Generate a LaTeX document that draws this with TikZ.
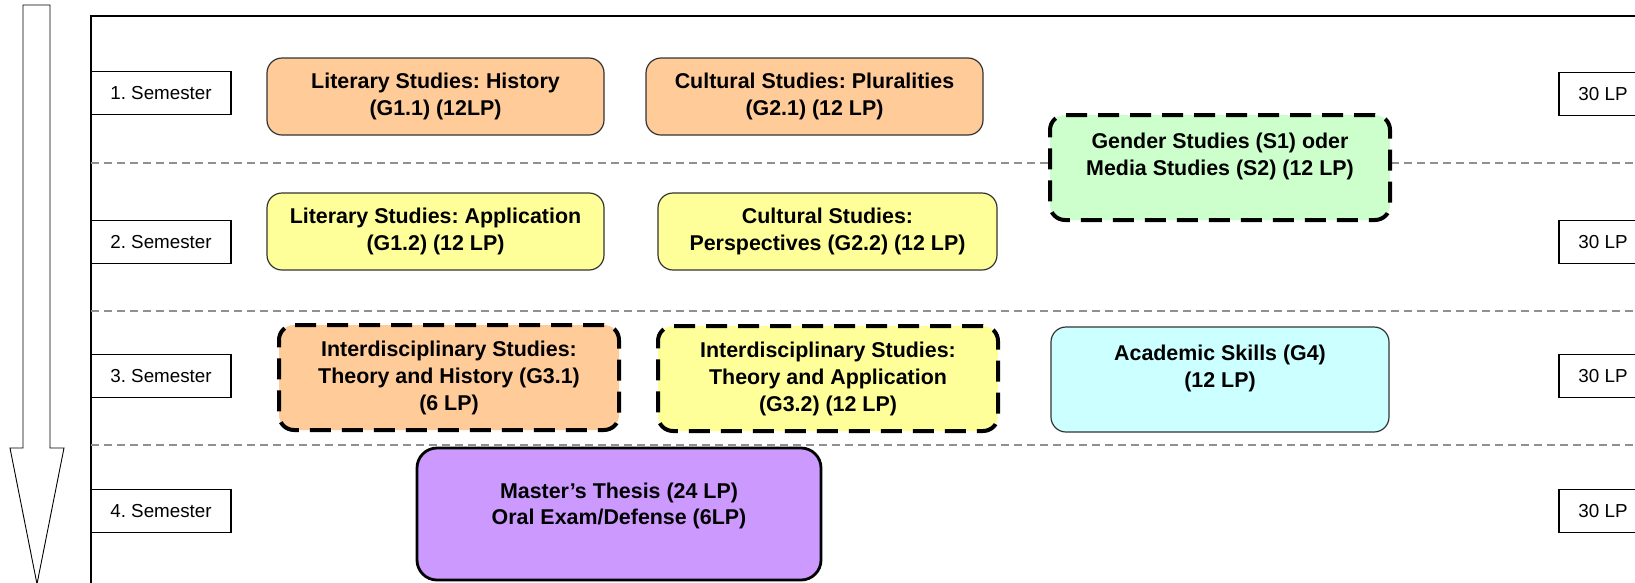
\documentclass[tikz,border=0pt]{standalone}
\usepackage{fontspec}
\setmainfont{Liberation Sans}
\frenchspacing
\definecolor{orng}{HTML}{FFCC99}
\definecolor{yllw}{HTML}{FFFF99}
\definecolor{grn}{HTML}{CCFFCC}
\definecolor{cyn}{HTML}{CCFFFF}
\definecolor{prpl}{HTML}{CC99FF}
\definecolor{sepgray}{HTML}{909090}
\begin{document}
\begin{tikzpicture}[x=1pt,y=-1pt,
  modbox/.style={draw=black!80, line width=1.2pt, rounded corners=15pt, align=center,
    font=\fontsize{21.4}{27}\selectfont\bfseries, inner sep=0pt},
  dashbox/.style={modbox, draw=black, line width=4pt, dash pattern=on 21pt off 11pt},
  sembox/.style={draw=black, line width=1.3pt, font=\fontsize{18.8}{22}\selectfont,
    minimum width=140pt, minimum height=43pt, inner sep=0pt},
  lpbox/.style={sembox, minimum width=88pt},
  sepline/.style={draw=sepgray, line width=1.3pt, dash pattern=on 8pt off 5pt}
]
\useasboundingbox (0,0) rectangle (1635,582);
\clip (0,0) rectangle (1635,582);
\fill[white] (0,0) rectangle (1635,582);

% time arrow
\draw[line width=0.9pt, fill=white] (23,5) -- (50,5) -- (50,448) -- (64,448) -- (37,584) -- (10,448) -- (23,448) -- cycle;

% frame
\draw[line width=1.4pt] (1640,16) -- (91,16) -- (91,590);

% semester separators
\coordinate (s1l) at (91,163); \coordinate (s1r) at (1640,163);
\coordinate (s2l) at (91,311); \coordinate (s2r) at (1640,311);
\coordinate (s3l) at (91,445); \coordinate (s3r) at (1640,445);
\draw[sepline] (s1l) -- (s1r);
\draw[sepline] (s2l) -- (s2r);
\draw[sepline] (s3l) -- (s3r);

% semester labels
\node[sembox, fill=white] (sem1) at (161,93) {1. Semester};
\node[sembox, fill=white] (sem2) at (161,242) {2. Semester};
\node[sembox, fill=white] (sem3) at (161,376) {3. Semester};
\node[sembox, fill=white] (sem4) at (161,511) {4. Semester};

\node[lpbox, fill=white] (lp1) at (1603,94) {30 LP};
\node[lpbox, fill=white] (lp2) at (1603,242) {30 LP};
\node[lpbox, fill=white] (lp3) at (1603,376) {30 LP};
\node[lpbox, fill=white] (lp4) at (1603,511) {30 LP};

% modules
\node[modbox, fill=orng, minimum width=337pt, minimum height=77pt] (g11) at (435.5,96.5)
  {Literary Studies: History\\(G1.1) (12LP)};
\node[modbox, fill=orng, minimum width=337pt, minimum height=77pt] (g21) at (814.5,96.5)
  {Cultural Studies: Pluralities\\(G2.1) (12 LP)};
\node[dashbox, fill=grn, minimum width=340pt, minimum height=105pt] (s12) at (1220,167.5)
  {Gender Studies (S1) oder\\Media Studies (S2) (12 LP)\\~};
\node[modbox, fill=yllw, minimum width=337pt, minimum height=77pt] (g12) at (435.5,231.5)
  {Literary Studies: Application\\(G1.2) (12 LP)};
\node[modbox, fill=yllw, minimum width=339pt, minimum height=77pt] (g22) at (827.5,231.5)
  {Cultural Studies:\\Perspectives (G2.2) (12 LP)};
\node[dashbox, fill=orng, minimum width=340pt, minimum height=105pt] (g31) at (449,377.5)
  {Interdisciplinary Studies:\\Theory and History (G3.1)\\(6 LP)};
\node[dashbox, fill=yllw, minimum width=340pt, minimum height=105pt] (g32) at (828,378.5)
  {Interdisciplinary Studies:\\Theory and Application\\(G3.2) (12 LP)};
\node[modbox, fill=cyn, minimum width=338pt, minimum height=105pt] (g4) at (1220,379.5)
  {Academic Skills (G4)\\(12 LP)\\~};
\node[modbox, fill=prpl, draw=black, line width=2.8pt, rounded corners=20pt,
  minimum width=404pt, minimum height=132pt] (ma) at (619,514) {};
\node[align=center, font=\fontsize{21.4}{26}\selectfont\bfseries, inner sep=0pt] (matext) at (619,506)
  {Master’s Thesis (24 LP)\\Oral Exam/Defense (6LP)};
\end{tikzpicture}
\end{document}
